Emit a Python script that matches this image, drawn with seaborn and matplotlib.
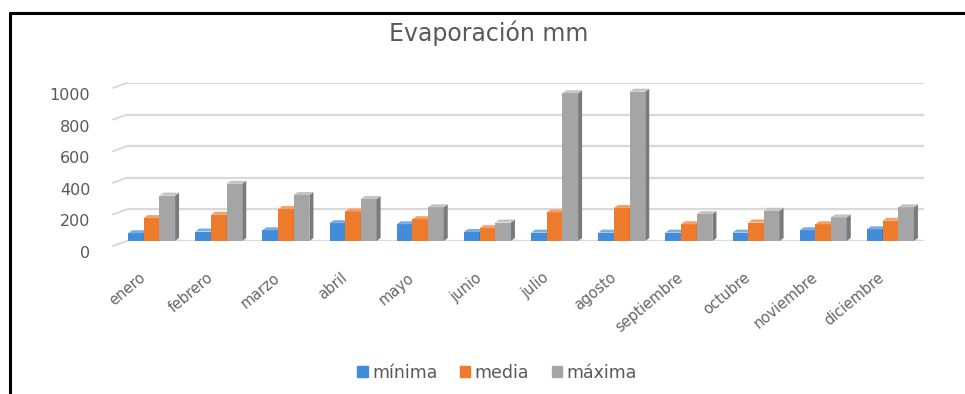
import matplotlib
matplotlib.use("Agg")
import matplotlib.pyplot as plt
from matplotlib import transforms
from matplotlib.lines import Line2D
from matplotlib.patches import Polygon
import seaborn as sns
import pandas as pd
import numpy as np

# Monthly evaporation (mm)
meses = ["enero", "febrero", "marzo", "abril", "mayo", "junio", "julio",
         "agosto", "septiembre", "octubre", "noviembre", "diciembre"]
minima = [49, 60, 68, 113, 106, 57, 53, 53, 53, 53, 68, 74]
media = [145, 166, 202, 187, 138, 81, 181, 209, 106, 117, 106, 128]
maxima = [287, 362, 291, 266, 213, 117, 935, 945, 170, 191, 149, 213]
series = ["mínima", "media", "máxima"]
y_ticks = [0, 200, 400, 600, 800, 1000]

# front / side / top shades for each series
colores = ["#438CDA", "#EE7B2C", "#A5A5A5"]
lados = ["#2C67A8", "#BF5C16", "#7A7A7A"]
techos = ["#78AEE8", "#F5A068", "#C4C4C4"]
gris_texto = "#595959"

df = pd.DataFrame({
    "mes": meses * 3,
    "serie": np.repeat(series, len(meses)),
    "valor": minima + media + maxima,
})

sns.set_theme(style="white")
plt.rcParams["font.family"] = ["DejaVu Sans"]

W, H = 965, 394
fig = plt.figure(figsize=(W / 100, H / 100), dpi=100)
fig.patch.set_facecolor("white")

x0, x1, y_top, y_bot = 118, 924, 83, 241
ax = fig.add_axes([x0 / W, 1 - y_bot / H, (x1 - x0) / W, (y_bot - y_top) / H])

sns.barplot(data=df, x="mes", y="valor", hue="serie", order=meses,
            hue_order=series, palette=colores, saturation=1, width=0.7,
            linewidth=0, ax=ax)

ax.set_ylim(0, 1000)
ax.set_xlim(-0.5, len(meses) - 0.5)
ax.set_yticks(y_ticks)
ax.set_yticklabels([str(v) for v in y_ticks])
ax.set_xlabel("")
ax.set_ylabel("")
sns.despine(ax=ax, left=True, bottom=True)

# back-wall gridlines with a short slanted side-wall segment on the left
px_x = (x1 - x0) / len(meses)          # pixels per category
px_y = (y_bot - y_top) / 1000.0        # pixels per mm
x_start = -0.5 + 9 / px_x
ax.hlines(y_ticks, x_start, len(meses) - 0.5, color="#D9D9D9",
          linewidth=1.6, zorder=0)
for v in y_ticks:
    ax.plot([x_start - 14 / px_x, x_start], [v - 5 / px_y, v],
            color="#D9D9D9", linewidth=1.4, clip_on=False, zorder=0)

# give the columns a little depth: darker right side, lighter top
dx, dy = 4 / px_x, 3 / px_y
for k, bars in enumerate(ax.containers):
    for p in bars:
        x, w, h = p.get_x(), p.get_width(), p.get_height()
        p.set_zorder(3 + k)
        ax.add_patch(Polygon([(x + w, 0), (x + w + dx, dy), (x + w + dx, h + dy),
                              (x + w, h)], closed=True, facecolor=lados[k],
                             linewidth=0, zorder=3 + k))
        ax.add_patch(Polygon([(x, h), (x + dx, h + dy), (x + w + dx, h + dy),
                              (x + w, h)], closed=True, facecolor=techos[k],
                             linewidth=0, zorder=3 + k))

ax.tick_params(axis="y", length=0, pad=20, labelsize=11.5, labelcolor=gris_texto)
ax.tick_params(axis="x", length=0, pad=25, labelsize=10.5, labelcolor="#666666")

# y labels sit slightly below their gridlines
shift_y = transforms.ScaledTranslation(0, -0.11, fig.dpi_scale_trans)
for lab in ax.get_yticklabels():
    lab.set_transform(lab.get_transform() + shift_y)

shift_x = transforms.ScaledTranslation(-0.08, 0, fig.dpi_scale_trans)
for lab in ax.get_xticklabels():
    lab.set_rotation(40)
    lab.set_ha("right")
    lab.set_va("center")
    lab.set_rotation_mode("anchor")
    lab.set_transform(lab.get_transform() + shift_x)

ax.get_legend().remove()
handles = [plt.Rectangle((0, 0), 1, 1, color=c) for c in colores]
fig.legend(handles, series, loc="center", bbox_to_anchor=(497 / W, 1 - 373 / H),
           ncol=3, frameon=False, fontsize=12.5, labelcolor=gris_texto,
           handlelength=0.6, handleheight=0.6, handletextpad=0.25,
           columnspacing=1.3)

fig.text(489 / W, 1 - 41 / H, "Evaporación mm", ha="center", va="baseline",
         fontsize=17, color=gris_texto)

# frame lines along the top and left edges
fig.add_artist(Line2D([9.5 / W, 1], [1 - 12.5 / H, 1 - 12.5 / H],
                      transform=fig.transFigure, color="black", linewidth=2.2))
fig.add_artist(Line2D([9.5 / W, 9.5 / W], [1 - 12.5 / H, 0],
                      transform=fig.transFigure, color="black", linewidth=2.2))

fig.savefig("out.png", dpi=100)
